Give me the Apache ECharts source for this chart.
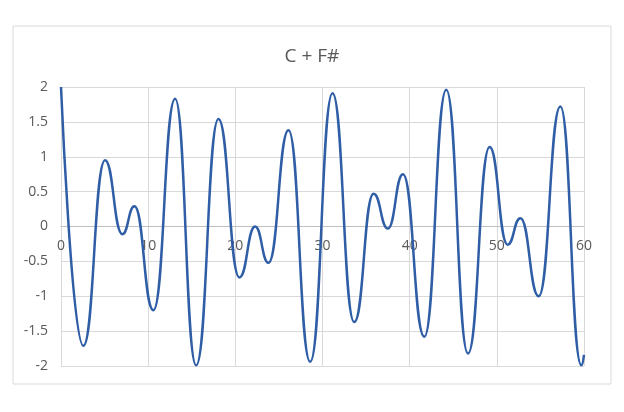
<!DOCTYPE html>
<html>
<head>
<meta charset="utf-8">
<script src="https://cdn.jsdelivr.net/npm/echarts@6/dist/echarts.min.js"></script>
<style>
    html, body { margin: 0; padding: 0; background: #fff; }
    #chart { width: 624px; height: 412px; }
</style>
</head>
<body>
<div id="chart"></div>
<script>
// turning points of the curve
const xValues = [0, 2.56, 5.05, 7.04, 8.42, 10.6, 13.09, 15.5, 18.06, 20.47, 22.27, 23.8, 26.1, 28.59,
    31.15, 33.64, 35.86, 37.5, 39.23, 41.68, 44.2, 46.69, 49.17, 51.24, 52.7, 54.8, 57.29, 59.7, 60];
const yValues = [2, -1.71, 0.95, -0.11, 0.29, -1.2, 1.83, -1.99, 1.54, -0.73, 0.0, -0.52, 1.38, -1.94,
    1.91, -1.37, 0.47, -0.03, 0.75, -1.58, 1.96, -1.82, 1.14, -0.26, 0.12, -1.0, 1.72, -1.99, -1.84];
const titleText = 'C + F#';

const chart = echarts.init(document.getElementById('chart'));

const gridColor = '#d9d9d9';
const textColor = '#595959';
const gridTop = 87;
const gridBottom = 46;
const gridHeight = 412 - gridTop - gridBottom;

const option = {
    animation: false,
    graphic: [{
        type: 'rect',
        shape: { x: 13, y: 26, width: 598, height: 358 },
        style: { fill: 'none', stroke: gridColor, lineWidth: 1 }
    }],
    title: {
        text: titleText,
        left: 'center',
        top: 42,
        textStyle: { fontFamily: 'Open Sans', fontSize: 19, fontWeight: 'normal', color: textColor }
    },
    grid: { left: 61, right: 40, top: gridTop, bottom: gridBottom },
    xAxis: {
        type: 'value',
        min: 0,
        max: 60,
        interval: 10,
        // axis sits on y = 0, halfway up the plot
        offset: -gridHeight / 2,
        axisLine: { show: true, onZero: false, lineStyle: { color: '#bfbfbf' } },
        axisTick: { show: false },
        axisLabel: { color: textColor, fontFamily: 'Open Sans', fontSize: 14, margin: 13 },
        splitLine: { lineStyle: { color: gridColor } }
    },
    yAxis: {
        type: 'value',
        min: -2,
        max: 2,
        interval: 0.5,
        axisLine: { show: false, onZero: false },
        axisTick: { show: false },
        axisLabel: { color: textColor, fontFamily: 'Open Sans', fontSize: 14, margin: 13 },
        splitLine: { lineStyle: { color: gridColor } }
    },
    series: [{
        type: 'line',
        data: xValues.map((x, i) => [x, yValues[i]]),
        showSymbol: false,
        smooth: 0.5,
        smoothMonotone: 'x',
        lineStyle: { color: '#2f5ea6', width: 2.5 }
    }]
};

chart.setOption(option);
</script>
</body>
</html>
